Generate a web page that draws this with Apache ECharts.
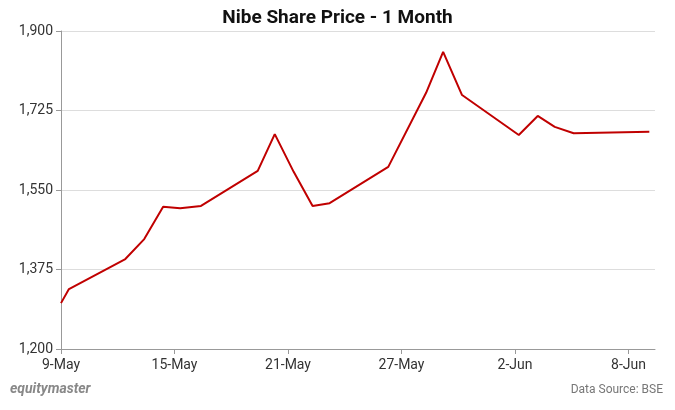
<!DOCTYPE html>
<html><head><meta charset="utf-8">
<script src="https://cdn.jsdelivr.net/npm/echarts@6/dist/echarts.min.js"></script>
<style>body{margin:0}#c{width:675px;height:410px}</style></head>
<body><div id="c"></div>
<script>
var dayOffsets = [0, 0.42, 3.4, 4.4, 5.4, 6.3, 7.4, 10.4, 11.3, 12.3, 13.3, 14.2, 17.3, 19.3, 20.2, 21.2, 24.2, 25.2, 26.1, 27.1, 31.1];
var prices = [1301, 1332, 1398, 1442, 1513, 1510, 1515, 1592, 1673, 1590, 1515, 1521, 1601, 1764, 1854, 1759, 1671, 1713, 1689, 1675, 1678];
var tickLabels = ["9-May", "15-May", "21-May", "27-May", "2-Jun", "8-Jun"];

var chart = echarts.init(document.getElementById("c"));
chart.setOption({
    animation: false,
    title: {
        text: "Nibe Share Price - 1 Month", left: "center", top: 4,
        textStyle: { fontFamily: "Roboto", fontWeight: "bold", fontSize: 19, color: "#111" }
    },
    graphic: [
        { type: "text", left: 10, top: 382, style: { text: "equitymaster", font: "italic bold 14px Roboto", fill: "#888" } },
        { type: "text", right: 12, top: 384, style: { text: "Data Source: BSE", font: "12px Roboto", fill: "#777" } }
    ],
    grid: { left: 61, right: 20, top: 31, bottom: 61 },
    xAxis: {
        type: "value", min: 0, max: 31.4, interval: 6,
        axisLine: { lineStyle: { color: "#999" } },
        axisTick: { show: true, lineStyle: { color: "#999" } },
        splitLine: { show: false },
        axisLabel: {
            showMaxLabel: false, color: "#333", fontFamily: "Roboto", fontSize: 14, margin: 9,
            formatter: function(v) { return tickLabels[Math.round(v / 6)] || ""; }
        }
    },
    yAxis: {
        type: "value", min: 1200, max: 1900, interval: 175,
        axisLine: { show: true, lineStyle: { color: "#999" } },
        splitLine: { lineStyle: { color: "#ddd" } },
        axisLabel: {
            color: "#333", fontFamily: "Roboto", fontSize: 14,
            formatter: function(v) { return v.toLocaleString("en-US"); }
        }
    },
    series: [{
        type: "line", symbol: "none",
        lineStyle: { color: "#c00000", width: 2 },
        data: dayOffsets.map(function(d, i) { return [d, prices[i]]; })
    }]
});
</script></body></html>
